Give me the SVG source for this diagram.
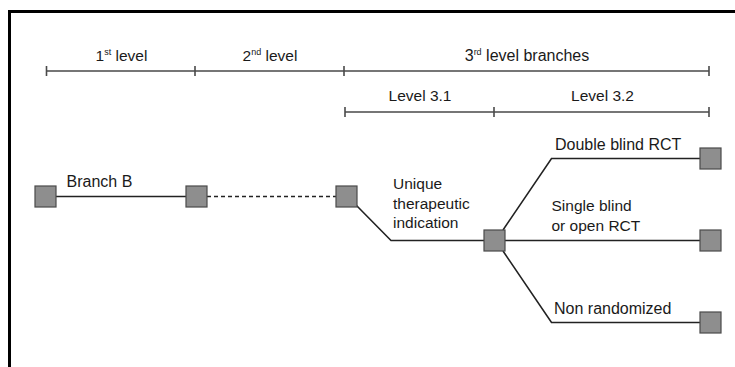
<svg xmlns="http://www.w3.org/2000/svg" width="735" height="367" viewBox="0 0 735 367">
  <style>
    .lbl { font-family: "Liberation Sans", Arial, sans-serif; font-size: 15.5px; fill: #1a1a1a; }
    .big { font-size: 16px; }
    .mid { text-anchor: middle; }
    .sup { font-size: 9px; }
    .scale { stroke: #4a4a4a; stroke-width: 1.6; fill: none; }
    .edge { stroke: #222; stroke-width: 1.6; fill: none; }
    .dash { stroke-dasharray: 4 3; }
    .node { fill: #8e8e8e; stroke: #4a4a4a; stroke-width: 1.2; }
  </style>

  <rect width="735" height="367" fill="#fff"/>

  <!-- frame (open on the right and bottom) -->
  <path d="M9.5 367 V11.5 H735" fill="none" stroke="#000" stroke-width="3"/>

  <!-- level scale -->
  <g id="scale">
    <path class="scale" d="M46.5 71 H709 M46.5 66 V76 M195 66 V76 M344 66 V76 M709 66 V76"/>
    <path class="scale" d="M345 112 H709 M345 107 V117 M494 107 V117 M709 107 V117"/>
    <text class="lbl mid" x="121.5" y="61">1<tspan class="sup" dy="-6">st</tspan><tspan dy="6"> level</tspan></text>
    <text class="lbl mid" x="270" y="61">2<tspan class="sup" dy="-6">nd</tspan><tspan dy="6"> level</tspan></text>
    <text class="lbl mid big" x="527" y="61">3<tspan class="sup" dy="-6">rd</tspan><tspan dy="6"> level branches</tspan></text>
    <text class="lbl mid" x="420" y="101">Level 3.1</text>
    <text class="lbl mid" x="602.5" y="101">Level 3.2</text>
  </g>

  <!-- connectors -->
  <g id="connectors">
    <path class="edge" d="M56 196.5 H186"/>
    <path class="edge dash" d="M207 196.5 H336"/>
    <path class="edge" d="M356 205 L391 240.5 H484"/>
    <path class="edge" d="M503 230 L551.5 158.5 H700"/>
    <path class="edge" d="M505 240.5 H700"/>
    <path class="edge" d="M503 251 L551.5 322.5 H700"/>
  </g>

  <!-- edge labels -->
  <g id="labels">
    <text class="lbl big" x="66.5" y="187">Branch B</text>
    <text class="lbl" x="393" y="189">Unique</text>
    <text class="lbl" x="393" y="208.5">therapeutic</text>
    <text class="lbl" x="393" y="228">indication</text>
    <text class="lbl big" x="555" y="149.5">Double blind RCT</text>
    <text class="lbl" x="551.5" y="211">Single blind</text>
    <text class="lbl" x="551.5" y="231">or open RCT</text>
    <text class="lbl big" x="554" y="313.5">Non randomized</text>
  </g>

  <!-- nodes -->
  <g id="n1"><rect class="node" x="35" y="186" width="21" height="21"/></g>
  <g id="n2"><rect class="node" x="186" y="186" width="21" height="21"/></g>
  <g id="n3"><rect class="node" x="336" y="186" width="21" height="21"/></g>
  <g id="n4"><rect class="node" x="484" y="230" width="21" height="21"/></g>
  <g id="n5"><rect class="node" x="700" y="148" width="21" height="21"/></g>
  <g id="n6"><rect class="node" x="700" y="230" width="21" height="21"/></g>
  <g id="n7"><rect class="node" x="700" y="312" width="21" height="21"/></g>
</svg>
